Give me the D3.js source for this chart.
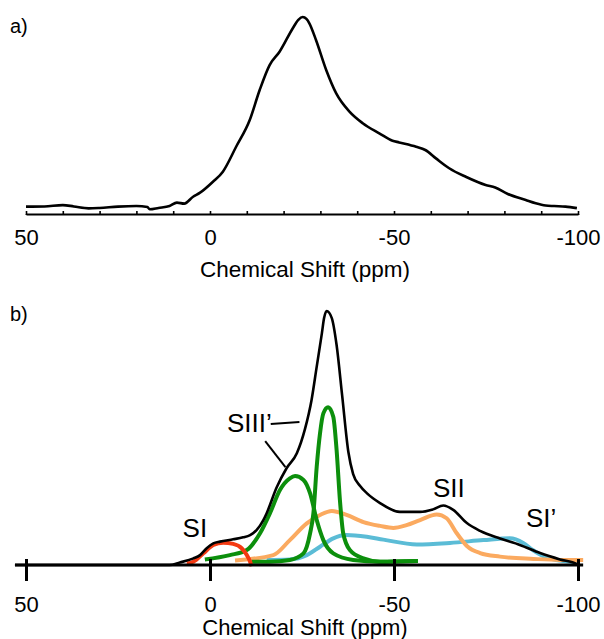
<!DOCTYPE html>
<html>
<head>
<meta charset="utf-8">
<script src="https://cdn.jsdelivr.net/npm/d3@7"></script>
<style>
  html, body { margin: 0; padding: 0; background: #fff; }
  svg { display: block; }
  text { font-family: "Liberation Sans", Arial, Helvetica, sans-serif; fill: #000; }
</style>
</head>
<body>
<svg id="chart" width="604" height="639"></svg>
<script>
// ---- data: chemical shift (ppm) and intensity ----
// a) measured spectrum
const specPpm = [50, 45, 40, 37, 33, 30, 25, 20, 17, 16.4, 14, 11, 9, 7, 4.6, 2.8, -0.8, -3.5, -7.1, -10.8, -13.5, -16.2, -18.9, -22.5, -24, -25.2, -26.2, -27, -28.8, -31.6, -34.3, -37.9, -41.5, -46, -49.6, -51.4, -56, -58.5, -61.4, -65, -69.5, -74.9, -77.5, -80.8, -85.8, -88.5, -91.2, -93.5, -96.6, -99.7];
const specVal = [0.2, 0.3, 1.0, 0.3, -0.7, -0.5, 0.2, 0.5, 0, -1.2, -0.5, 0.5, 2.3, 1.8, 5.4, 7.4, 13.3, 18.6, 31.7, 45.8, 61.6, 74.7, 81.7, 94.1, 98.5, 100, 99, 96.7, 87.9, 72, 59.8, 50.2, 44.1, 38.8, 34.9, 34.0, 31.7, 30.0, 25.6, 20.4, 15.9, 11.6, 10.3, 7.0, 3.7, 2.0, 0.8, 0.5, 0.2, -0.6];

// b) fitted sum and components
const sumPpm = [53, 20, 11, 8.2, 4.5, 2.7, 0.9, -0.9, -2.7, -6.3, -9.0, -10.9, -12.7, -14.5, -15.4, -18.1, -20.8, -23.6, -25.8, -27.6, -29.0, -30.4, -31.0, -31.7, -33.1, -34.4, -35.9, -37.6, -38.9, -40.8, -42.6, -46.2, -51.6, -57.1, -60.6, -63.4, -66.1, -69.8, -73.4, -78.8, -84.2, -89.7, -95.1, -99.7, -100];
const sumVal = [0, 0, 0, 1.0, 2.6, 3.9, 6.6, 8.5, 9.2, 10.1, 10.9, 11.8, 13.8, 17.7, 20.4, 30.5, 38.1, 44.0, 53.5, 65.0, 78.1, 91.2, 97.2, 100, 97.2, 86.6, 66.9, 44.5, 35.8, 31.1, 28.3, 24.4, 20.9, 20.9, 21.9, 23.4, 21.7, 16.5, 13.4, 10.4, 7.9, 4.7, 2.2, 0.4, 0];

const siPpm = [6.3, 4.5, 1.8, -0.9, -3.6, -6.3, -8.6, -10.0, -10.9, -11.3];
const siVal = [0.6, 1.3, 4.6, 7.9, 8.8, 8.3, 6.6, 3.9, 1.3, -0.5];

const siiiBroadPpm = [1.4, -5.4, -10.0, -13.6, -16.3, -19.0, -21.7, -23.1, -25.4, -27.2, -29.0, -30.8, -33.5, -38.9, -46.2, -56.5];
const siiiBroadVal = [2.2, 3.9, 5.9, 12.5, 20.4, 29.5, 34.1, 35.0, 33.5, 28.2, 17.7, 9.8, 4.6, 2.0, 1.3, 1.6];

const siiiNarrowPpm = [-11.3, -16.3, -21.7, -25.4, -27.2, -28.1, -29.0, -29.9, -30.8, -32.1, -33.5, -34.4, -35.3, -36.2, -38.0, -41.7, -46.2, -56.5];
const siiiNarrowVal = [1.3, 1.3, 2.0, 4.6, 12.5, 20.4, 38.7, 51.9, 59.7, 62.1, 58.4, 45.3, 25.6, 12.5, 5.9, 2.6, 1.3, 1.6];

const siiPpm = [-6.8, -17.2, -21.7, -26.3, -29.9, -33.1, -37.1, -41.7, -46.2, -49.8, -53.4, -57.1, -61.6, -64.3, -67.0, -69.8, -73.4, -78.8, -87.9, -95.1, -101.4];
const siiVal = [1.8, 3.9, 9.8, 16.4, 19.7, 21.3, 19.7, 16.9, 15.4, 14.6, 15.7, 17.7, 19.9, 18.4, 12.6, 7.5, 4.7, 3.3, 2.4, 2.0, 2.0];

const siPrimePpm = [-15.4, -21.7, -26.3, -29.9, -33.5, -37.1, -42.6, -47.1, -56.2, -65.2, -74.3, -81.5, -85.1, -87.7, -91.4, -94.1, -98.8];
const siPrimeVal = [2.0, 2.2, 3.9, 7.2, 10.5, 11.8, 11.1, 10.0, 8.1, 8.7, 9.8, 10.5, 8.7, 5.9, 3.0, 2.0, 1.2];

// axis ticks
const majorTicks = [50, 0, -50, -100];
const minorTicks = d3.range(50, -101, -10);
const axisTitle = "Chemical Shift (ppm)";

// ---- drawing ----
const svg = d3.select("#chart");
const zip = (xs, ys) => xs.map((x, i) => [x, ys[i]]);
const plain = d => String(d);   // hyphen-minus, as on the original axis

const xA = d3.scaleLinear().domain([50, -100]).range([26, 578]);
const yA = d3.scaleLinear().domain([0, 100]).range([207, 17]);
const xB = d3.scaleLinear().domain([50, -100]).range([26, 578]);
const yB = d3.scaleLinear().domain([0, 100]).range([565, 311]);

// panel a ------------------------------------------------------------
const gA = svg.append("g");
const axisAY = 214;

const minorAxisA = d3.axisBottom(xA).tickValues(minorTicks).tickSizeInner(-3).tickSizeOuter(0).tickFormat("");
gA.append("g").attr("transform", `translate(0,${axisAY})`).call(minorAxisA)
  .call(g => g.select(".domain").attr("stroke-width", 2).attr("stroke", "#000"))
  .call(g => g.selectAll(".tick line").attr("stroke-width", 1.6).attr("stroke", "#000"));

const majorAxisA = d3.axisBottom(xA).tickValues(majorTicks).tickSizeInner(-8).tickSizeOuter(0).tickPadding(15).tickFormat(plain);
gA.append("g").attr("transform", `translate(0,${axisAY})`).call(majorAxisA)
  .call(g => g.select(".domain").remove())
  .call(g => g.selectAll(".tick line").attr("stroke-width", 2).attr("stroke", "#000").attr("y2", 1))
  .call(g => g.selectAll(".tick text").attr("font-size", 22).attr("font-family", null));

gA.append("path")
  .datum(zip(specPpm, specVal))
  .attr("fill", "none").attr("stroke", "#000").attr("stroke-width", 2.6)
  .attr("stroke-linejoin", "round")
  .attr("d", d3.line().x(d => xA(d[0])).y(d => yA(d[1])).curve(d3.curveMonotoneX));

gA.append("text").attr("x", 305).attr("y", 277).attr("text-anchor", "middle")
  .attr("font-size", 22.5).text(axisTitle);
gA.append("text").attr("x", 10).attr("y", 33).attr("font-size", 20).text("a)");

// panel b ------------------------------------------------------------
const gB = svg.append("g");
const axisBY = 565;

const line = d3.line().x(d => xB(d[0])).y(d => yB(d[1])).curve(d3.curveMonotoneX);
const comps = [
  { p: siPrimePpm, v: siPrimeVal, c: "#5bbcd6" },
  { p: siiPpm, v: siiVal, c: "#fbaa60" },
  { p: siiiBroadPpm, v: siiiBroadVal, c: "#0c8f0c" },
  { p: siiiNarrowPpm, v: siiiNarrowVal, c: "#0c8f0c" },
  { p: siPpm, v: siVal, c: "#f43a12" }
];
gB.selectAll("path.comp").data(comps).join("path").attr("class", "comp")
  .attr("fill", "none").attr("stroke", d => d.c).attr("stroke-width", 4)
  .attr("stroke-linejoin", "round")
  .attr("d", d => line(zip(d.p, d.v)));

const axisB = d3.axisBottom(xB).tickValues(majorTicks).tickSizeOuter(0).tickPadding(25).tickFormat(plain);
gB.append("g").attr("transform", `translate(0,${axisBY})`).call(axisB)
  .call(g => g.select(".domain").remove())
  .call(g => g.selectAll(".tick line").attr("stroke", "#000").attr("stroke-width", 3).attr("y1", -6).attr("y2", 16))
  .call(g => g.selectAll(".tick text").attr("font-size", 22).attr("font-family", null));
gB.append("line")
  .attr("x1", xB(53)).attr("x2", xB(-101.4)).attr("y1", axisBY).attr("y2", axisBY)
  .attr("stroke", "#000").attr("stroke-width", 3);

gB.append("path")
  .datum(zip(sumPpm, sumVal))
  .attr("fill", "none").attr("stroke", "#000").attr("stroke-width", 2.6)
  .attr("stroke-linejoin", "round")
  .attr("d", line);

gB.append("text").attr("x", 305).attr("y", 635).attr("text-anchor", "middle")
  .attr("font-size", 22).text(axisTitle);
gB.append("text").attr("x", 10).attr("y", 321).attr("font-size", 20).text("b)");

// peak labels with leader lines
const labels = [
  { t: "SI", ppm: 4.1, v: 11.2 },
  { t: "SIII\u2019", ppm: -10.7, v: 52.3 },
  { t: "SII", ppm: -64.9, v: 26.8 },
  { t: "SI\u2019", ppm: -90, v: 15 }
];
gB.selectAll("text.lab").data(labels).join("text").attr("class", "lab")
  .attr("x", d => xB(d.ppm)).attr("y", d => yB(d.v)).attr("text-anchor", "middle")
  .attr("font-size", 26).text(d => d.t);

const leaders = [
  [[-16.5, 55.5], [-24.3, 56.3]],
  [[-15.0, 48.8], [-20.5, 38.5]]
];
gB.selectAll("path.lead").data(leaders).join("path").attr("class", "lead")
  .attr("fill", "none").attr("stroke", "#000").attr("stroke-width", 2)
  .attr("d", d3.line().x(d => xB(d[0])).y(d => yB(d[1])));
</script>
</body>
</html>
